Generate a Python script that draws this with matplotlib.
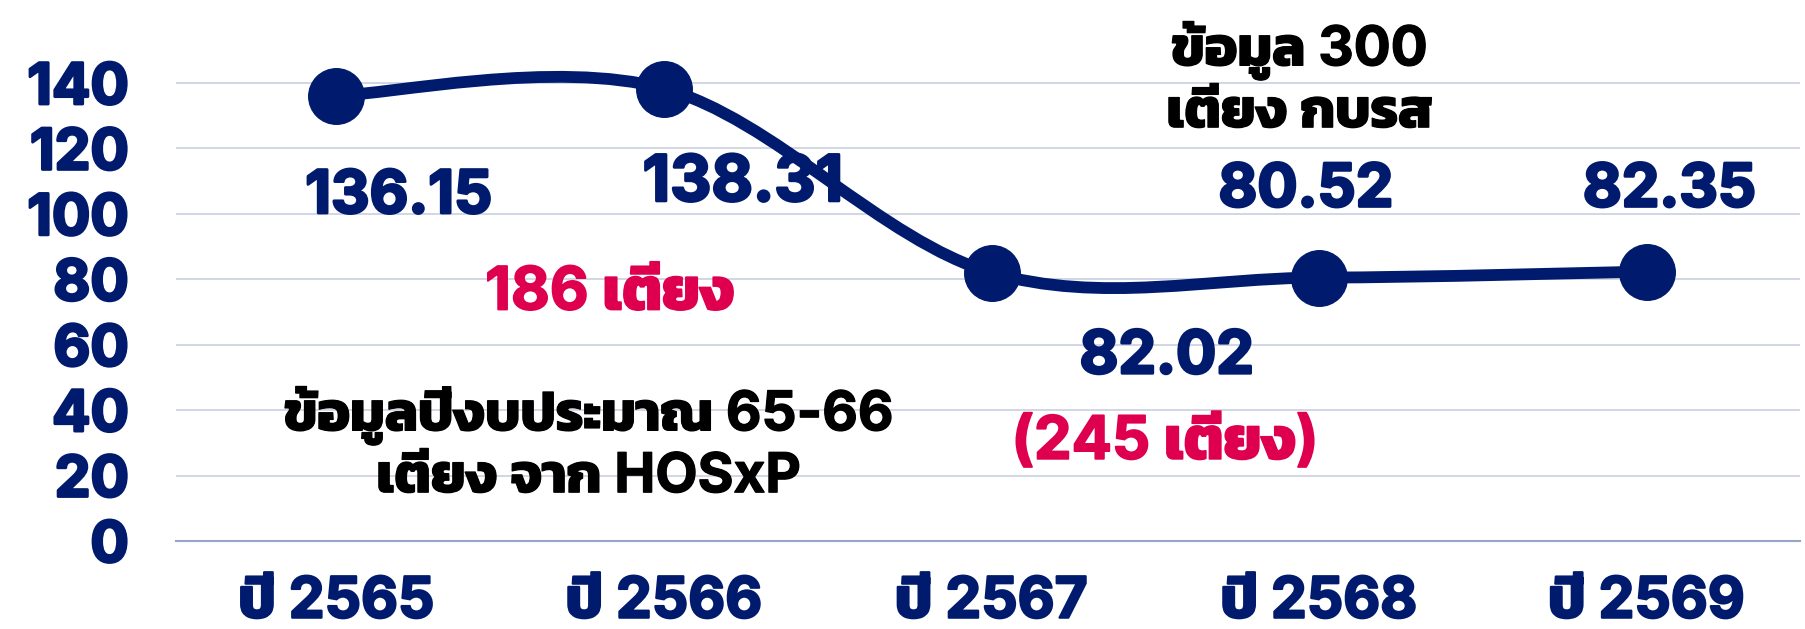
import matplotlib
matplotlib.use('Agg')
import matplotlib.pyplot as plt
import matplotlib.patheffects as pe
from matplotlib import font_manager
from matplotlib.ft2font import FT2Font
from matplotlib.path import Path
from matplotlib.patches import PathPatch
import numpy as np

years = ['ปี 2565', 'ปี 2566', 'ปี 2567', 'ปี 2568', 'ปี 2569']
beds_used = [136.15, 138.31, 82.02, 80.52, 82.35]
y_ticks = [0, 20, 40, 60, 80, 100, 120, 140]
note_old = 'ข้อมูลปีงบประมาณ 65-66\nเตียง จาก HOSxP'
note_new = 'ข้อมูล 300\nเตียง กบรส'
beds_old = '186 เตียง'
beds_new = '(245 เตียง)'

NAVY = '#001a6e'
RED = '#de004f'

# fonts that carry Thai glyphs, loopless ones first
thai_fonts = []
for f in font_manager.fontManager.ttflist:
    try:
        if 0x0E40 in FT2Font(f.fname).get_charmap() and f.name not in thai_fonts:
            thai_fonts.append(f.name)
    except Exception:
        pass
prefer = ['Kanit', 'Prompt', 'Noto Sans Thai', 'Sarabun', 'Noto Sans Thai UI']
thai_fonts.sort(key=lambda n: prefer.index(n) if n in prefer else len(prefer))
families = ['Inter'] + thai_fonts[:1] + ['DejaVu Sans']
plt.rcParams['font.family'] = families
plt.rcParams['font.weight'] = 'bold'


def heavy(color, w=2.0):
    # inter comes out regular, so thicken the glyphs a bit
    return [pe.withStroke(linewidth=w, foreground=color)]


fig = plt.figure(figsize=(18.05, 6.29), dpi=100)
ax = fig.add_axes([0.0975, 0.14, 0.9, 0.832])

# smoothed line like excel: bezier through the points
x = np.arange(len(beds_used), dtype=float)
pts = np.column_stack([x, beds_used])
verts = [pts[0]]
codes = [Path.MOVETO]
n = len(pts)
for i in range(n - 1):
    p0 = pts[max(i - 1, 0)]
    p1 = pts[i]
    p2 = pts[i + 1]
    p3 = pts[min(i + 2, n - 1)]
    verts += [p1 + (p2 - p0) / 6, p2 - (p3 - p1) / 6, p2]
    codes += [Path.CURVE4] * 3
ax.add_patch(PathPatch(Path(verts, codes), fill=False, edgecolor=NAVY,
                       lw=8.5, capstyle='round', zorder=3))
ax.plot(x, beds_used, 'o', color=NAVY, ms=40, zorder=4)

# value labels (moved by hand in the original)
label_pos = [(0.19, 105), (1.24, 109), (2.535, 56), (2.96, 107), (4.07, 107)]
label_size = [43, 46, 43, 43, 43]
for v, (lx, ly), fs in zip(beds_used, label_pos, label_size):
    ax.text(lx, ly, '%.2f' % v, color=NAVY, fontsize=fs, ha='center', va='center', zorder=5,
            path_effects=heavy(NAVY))

ax.text(0.835, 75.5, beds_old, color=RED, fontsize=43, ha='center', va='center',
        path_effects=heavy(RED, 1.3))
ax.text(2.53, 30, beds_new, color=RED, fontsize=43, ha='center', va='center',
        path_effects=heavy(RED, 1.3))
ax.text(0.77, 29.4, note_old, color='black', fontsize=39.5, ha='center', va='center',
        linespacing=1.2, path_effects=heavy('black', 0.9))
ax.text(2.94, 141, note_new, color='black', fontsize=39.5, ha='center', va='center',
        linespacing=1.2, clip_on=False, path_effects=heavy('black', 0.9))

ax.set_xlim(-0.49, 4.47)
ax.set_ylim(0, 160)
ax.set_yticks(y_ticks)
ax.set_xticks(x)
ax.set_xticklabels(years)
ax.tick_params(axis='both', length=0, labelsize=41, labelcolor=NAVY)
ax.tick_params(axis='y', pad=34)
ax.tick_params(axis='x', pad=25)
for lab in ax.get_yticklabels():
    lab.set_path_effects(heavy(NAVY))
for lab in ax.get_xticklabels():
    lab.set_path_effects(heavy(NAVY, 1.6))
ax.grid(axis='y', color='#c9cfe0', lw=1.2)
ax.set_axisbelow(True)
for s in ['top', 'right', 'left']:
    ax.spines[s].set_visible(False)
ax.spines['bottom'].set_color('#9aa3c8')
ax.spines['bottom'].set_linewidth(1.5)

fig.savefig('out.png', dpi=100)
